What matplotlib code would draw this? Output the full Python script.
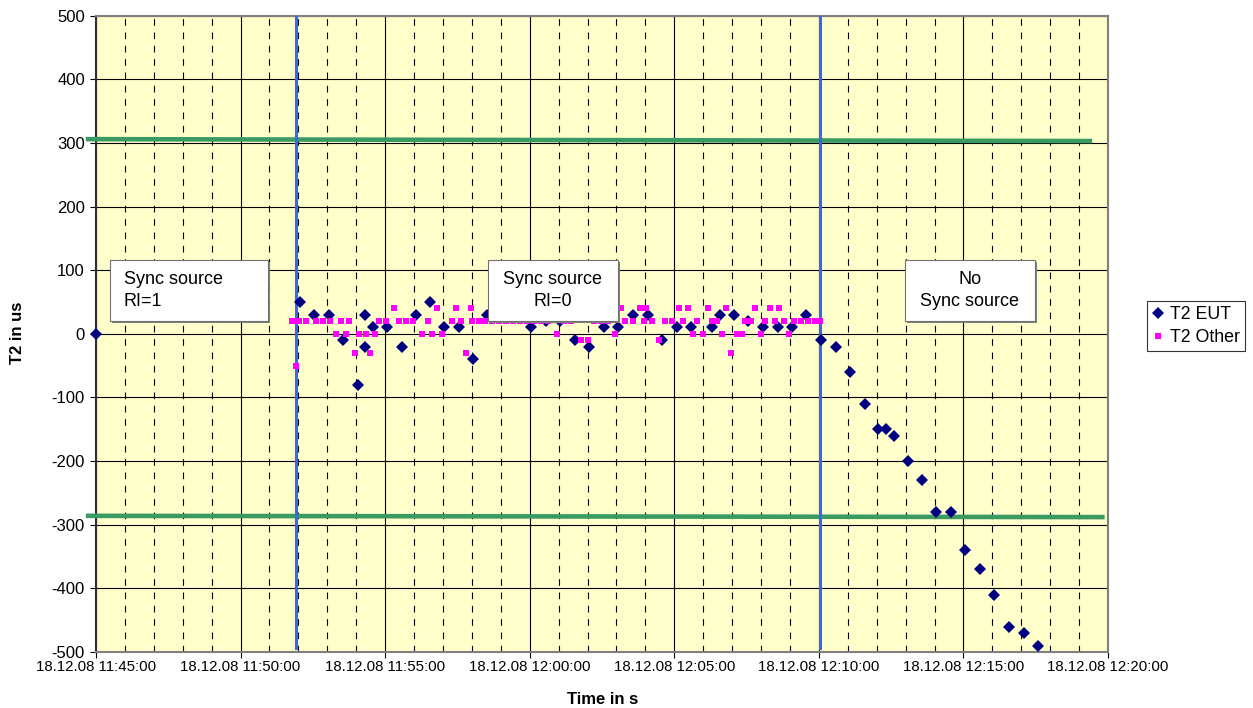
import matplotlib
matplotlib.use("Agg")
import matplotlib.pyplot as plt
import matplotlib.dates as mdates
import matplotlib.transforms as mtransforms
from matplotlib.patches import Rectangle
import pandas as pd

plt.rcParams['font.family'] = ['Liberation Sans', 'DejaVu Sans']
plt.rcParams['axes.unicode_minus'] = False

DAY = "2008-12-18 "

# T2 of the equipment under test
eut_times = [
    "11:45:00", "11:52:04", "11:52:33", "11:53:03", "11:53:33", "11:54:03",
    "11:54:18", "11:54:18", "11:54:34", "11:55:03", "11:55:36", "11:56:04",
    "11:56:33", "11:57:03", "11:57:34", "11:58:03", "11:58:32", "11:59:02",
    "11:59:31", "12:00:03", "12:00:33", "12:01:03", "12:01:33", "12:02:04",
    "12:02:35", "12:03:04", "12:03:34", "12:04:05", "12:04:35", "12:05:05",
    "12:05:35", "12:06:18", "12:06:34", "12:07:04", "12:07:34", "12:08:05",
    "12:08:35", "12:09:04", "12:09:34", "12:10:05", "12:10:36", "12:11:05",
    "12:11:36", "12:12:03", "12:12:20", "12:12:35", "12:13:04", "12:13:35",
    "12:14:04", "12:14:34", "12:15:04", "12:15:35", "12:16:04", "12:16:35",
    "12:17:05", "12:17:35",
]
eut_values = [
    0, 50, 30, 30, -10, -80,
    30, -20, 10, 10, -20, 30,
    50, 10, 10, -40, 30, 30,
    40, 10, 20, 20, -10, -20,
    10, 10, 30, 30, -10, 10,
    10, 10, 30, 30, 20, 10,
    10, 10, 30, -10, -20, -60,
    -110, -150, -150, -160, -200, -230,
    -280, -280, -340, -370, -410, -460,
    -470, -490,
]

# T2 of the other station
other_times = [
    "11:51:46", "11:51:55", "11:52:01", "11:52:16", "11:52:37", "11:52:51",
    "11:53:06", "11:53:18", "11:53:28", "11:53:38", "11:53:46", "11:53:57",
    "11:54:06", "11:54:20", "11:54:28", "11:54:38", "11:54:48", "11:55:02",
    "11:55:19", "11:55:28", "11:55:43", "11:55:58", "11:56:17", "11:56:28",
    "11:56:38", "11:56:47", "11:56:57", "11:57:19", "11:57:27", "11:57:38",
    "11:57:48", "11:57:58", "11:58:00", "11:58:14", "11:58:28", "11:58:42",
    "11:58:57", "11:59:11", "11:59:26", "11:59:40", "11:59:55", "12:00:09",
    "12:00:24", "12:00:38", "12:00:57", "12:01:12", "12:01:26", "12:01:47",
    "12:02:00", "12:02:14", "12:02:28", "12:02:43", "12:02:57", "12:03:09",
    "12:03:18", "12:03:35", "12:03:49", "12:03:58", "12:04:02", "12:04:14",
    "12:04:29", "12:04:40", "12:04:56", "12:05:09", "12:05:18", "12:05:28",
    "12:05:39", "12:05:48", "12:05:59", "12:06:10", "12:06:18", "12:06:29",
    "12:06:39", "12:06:47", "12:06:58", "12:07:10", "12:07:21", "12:07:27",
    "12:07:40", "12:07:47", "12:07:59", "12:08:09", "12:08:19", "12:08:28",
    "12:08:38", "12:08:47", "12:08:59", "12:09:09", "12:09:23", "12:09:37",
    "12:09:51", "12:10:02",
]
other_values = [
    20, -50, 20, 20, 20, 20,
    20, 0, 20, 0, 20, -30,
    0, 0, -30, 0, 20, 20,
    40, 20, 20, 20, 0, 20,
    0, 40, 0, 20, 40, 20,
    -30, 40, 20, 20, 20, 20,
    20, 20, 20, 20, 20, 20,
    20, 20, 0, 20, 20, -10,
    -10, 20, 20, 20, 0, 40,
    20, 20, 40, 20, 40, 20,
    -10, 20, 20, 40, 20, 40,
    0, 20, 0, 40, 20, 20,
    0, 40, -30, 0, 0, 20,
    20, 40, 0, 20, 40, 20,
    40, 20, 0, 20, 20, 20,
    20, 20,
]

limit_upper = 306
limit_lower = -286
sync_change_times = ["11:51:55", "12:10:02"]
region_labels = ["Sync source\nRI=1", "Sync source\nRI=0", "No\nSync source"]


def to_dt(times):
    return pd.to_datetime([DAY + t for t in times])


W, H = 1253, 708
fig = plt.figure(figsize=(W / 100, H / 100), dpi=100)
ax_l, ax_r, ax_t, ax_b = 96, 1108, 15.7, 652
ax = fig.add_axes([ax_l / W, 1 - ax_b / H, (ax_r - ax_l) / W, (ax_b - ax_t) / H])
ax.set_facecolor('#FFFFCC')

x0 = pd.Timestamp(DAY + "11:45:00")
x1 = pd.Timestamp(DAY + "12:20:00")
ax.set_xlim(x0, x1)
ax.set_ylim(-500, 500)

ax.xaxis.set_major_locator(mdates.MinuteLocator(byminute=range(0, 60, 5)))
ax.xaxis.set_minor_locator(mdates.MinuteLocator())
ax.xaxis.set_major_formatter(mdates.DateFormatter("%d.%m.%y %H:%M:%S"))
ax.set_yticks(range(-500, 501, 100))

ax.grid(which='major', axis='both', color='black', linewidth=0.8, linestyle='-')
ax.grid(which='minor', axis='x', color='black', linewidth=0.8,
        linestyle=(0, (6, 6)))
ax.set_axisbelow(True)

for side, sp in ax.spines.items():
    sp.set_color('#808080')
    sp.set_linewidth(1.5)
ax.spines['left'].set_color('#303030')

ax.tick_params(axis='y', which='major', direction='out', length=4,
               labelsize=12, pad=4, colors='black')
ax.tick_params(axis='x', which='major', direction='out', length=4,
               labelsize=10.8, pad=1.5, colors='black')
ax.tick_params(axis='x', which='minor', length=0)

# limits and sync switch-over lines
xl_a = x0 - pd.Timedelta(seconds=21)
xl_b = x1 - pd.Timedelta(seconds=33)
ax.plot([xl_a, xl_b], [limit_upper, limit_upper - 3], color='#3a9a62',
        linewidth=3.3, clip_on=False, zorder=3, solid_capstyle='butt')
ax.plot([xl_a, x1 - pd.Timedelta(seconds=7)], [limit_lower, limit_lower - 2],
        color='#3a9a62', linewidth=3.3, clip_on=False, zorder=3,
        solid_capstyle='butt')
for t in to_dt(sync_change_times):
    ax.plot([t, t], [-493, 500], color='#3366FF', linewidth=2.2, zorder=3)

ax.plot(to_dt(eut_times), eut_values, linestyle='none', marker='D',
        markersize=6.5, color='#000080', markeredgewidth=0, label='T2 EUT',
        zorder=4, clip_on=False)
ax.plot(to_dt(other_times), other_values, linestyle='none', marker='s',
        markersize=5.0, color='#FF00FF', markeredgewidth=0, label='T2 Other',
        zorder=5)

# annotation boxes (axes fraction)
box_spans = [(0.0138, 0.170), (0.387, 0.516), (0.799, 0.928)]
box_align = ['left', 'center', 'center']
box_y = (0.520, 0.616)
shadow = mtransforms.offset_copy(ax.transAxes, fig=fig, x=2.2, y=-2.2,
                                 units='dots')
for (bx0, bx1), label, align in zip(box_spans, region_labels, box_align):
    ax.add_patch(Rectangle((bx0, box_y[0]), bx1 - bx0, box_y[1] - box_y[0],
                           transform=shadow, facecolor='#808080',
                           edgecolor='none', zorder=6))
    ax.add_patch(Rectangle((bx0, box_y[0]), bx1 - bx0, box_y[1] - box_y[0],
                           transform=ax.transAxes, facecolor='white',
                           edgecolor='#707070', linewidth=0.8, zorder=7))
    tx = bx0 + 0.0138 if align == 'left' else (bx0 + bx1) / 2
    ax.text(tx, (box_y[0] + box_y[1]) / 2, label,
            transform=ax.transAxes, ha=align, va='center', fontsize=13,
            multialignment=align, linespacing=1.35, zorder=8)

fig.text(18 / W, 1 - 333 / H, "T2 in us", rotation=90, ha='center',
         va='center', fontsize=12, fontweight='bold')
fig.text(603 / W, 1 - 699 / H, "Time in s", ha='center', va='center',
         fontsize=12, fontweight='bold')

leg = fig.legend(loc='center left', bbox_to_anchor=(1147 / W, 1 - 326 / H),
                 fontsize=12.8, frameon=True, fancybox=False, shadow=False,
                 handlelength=0.6, handletextpad=0.4, borderpad=0.3,
                 labelspacing=0.35, borderaxespad=0, markerscale=0.9)
leg.get_frame().set_edgecolor('black')
leg.get_frame().set_linewidth(0.8)

fig.savefig("out.png", dpi=100)
